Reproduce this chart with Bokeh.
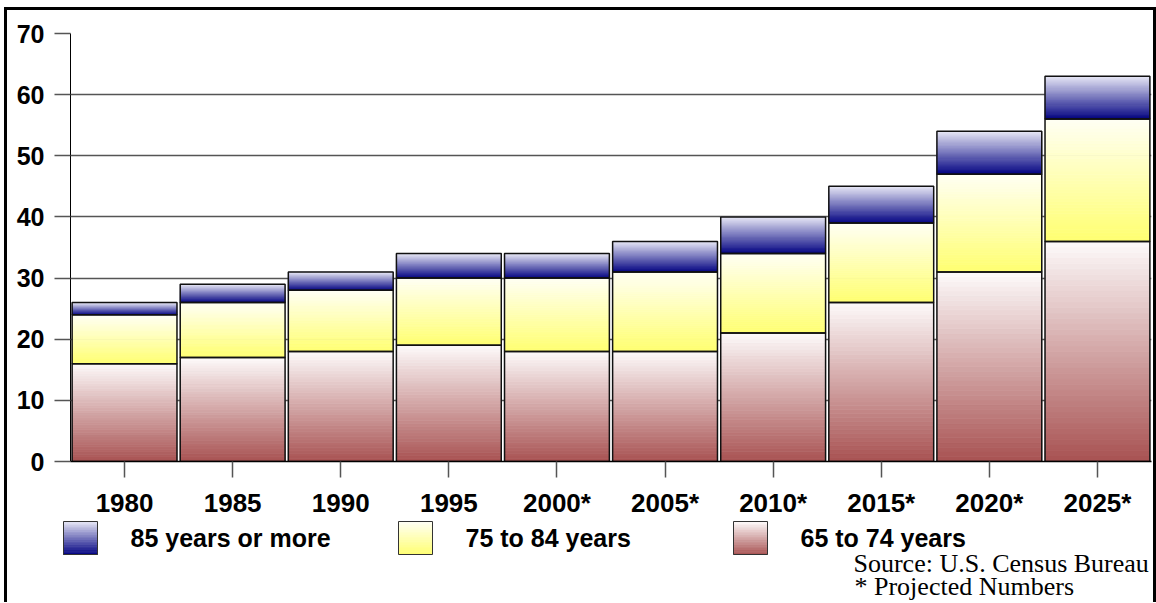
from bokeh.plotting import figure
from bokeh.layouts import column
from bokeh.models import ColumnDataSource, FactorRange, Range1d, SingleIntervalTicker
from bokeh.core.properties import value
from bokeh.embed import file_html
from bokeh.resources import INLINE

# ---- data (millions of people) ----
years = ["1980", "1985", "1990", "1995", "2000*", "2005*", "2010*", "2015*", "2020*", "2025*"]
age_65_74 = [16, 17, 18, 19, 18, 18, 21, 26, 31, 36]
age_75_84 = [8, 9, 10, 11, 12, 13, 13, 13, 16, 20]
age_85_plus = [2, 3, 3, 4, 4, 5, 6, 6, 7, 7]
series_labels = ["65 to 74 years", "75 to 84 years", "85 years or more"]
legend_order = ["85 years or more", "75 to 84 years", "65 to 74 years"]
source_lines = ["Source: U.S. Census Bureau", "* Projected Numbers"]

# ---- styles ----
# (top colour, bottom colour) of each segment's vertical gradient
grad = {
    "65 to 74 years": ((253, 250, 250), (168, 82, 82)),
    "75 to 84 years": ((255, 255, 244), (255, 255, 112)),
    "85 years or more": ((230, 230, 245), (0, 0, 128)),
}
FONT = "Liberation Sans"
SERIF = "Liberation Serif"
N = 40
BAR_W = 0.97
BORDER = "3px solid black"


def lerp(c1, c2, t):
    return "#%02x%02x%02x" % tuple(int(round(a + (b - a) * t)) for a, b in zip(c1, c2))


# ================= main chart =================
p = figure(x_range=FactorRange(*years), y_range=Range1d(0, 70),
           width=1152, height=513, output_backend="svg", toolbar_location=None,
           min_border_left=63, min_border_right=8, min_border_top=23, min_border_bottom=62,
           frame_align=False,
           styles={"margin-left": "4px", "margin-top": "7px",
                   "border-left": BORDER, "border-top": BORDER, "border-right": BORDER})
p.outline_line_color = None
p.background_fill_color = "white"
p.border_fill_color = "white"

slices = dict(x=[], bottom=[], top=[], color=[])
outlines = dict(x=[], bottom=[], top=[])
base = [0] * len(years)
for lab, vals in zip(series_labels, [age_65_74, age_75_84, age_85_plus]):
    top_c, bot_c = grad[lab]
    for i, yr in enumerate(years):
        b = base[i]
        t = b + vals[i]
        for k in range(N):
            slices["x"].append(yr)
            slices["bottom"].append(b + (t - b) * k / N)
            slices["top"].append(b + (t - b) * (k + 1) / N)
            slices["color"].append(lerp(bot_c, top_c, (k + 0.5) / N))
        outlines["x"].append(yr)
        outlines["bottom"].append(b)
        outlines["top"].append(t)
    base = [bb + v for bb, v in zip(base, vals)]

p.vbar(x="x", bottom="bottom", top="top", width=BAR_W, fill_color="color",
       line_color="color", line_width=0.8, source=ColumnDataSource(slices))
p.vbar(x="x", bottom="bottom", top="top", width=BAR_W, fill_alpha=0,
       line_color="#111111", line_width=1.5, source=ColumnDataSource(outlines))

p.xgrid.grid_line_color = None
p.ygrid.grid_line_color = "#555555"
p.ygrid.grid_line_width = 1.5
p.yaxis.ticker = SingleIntervalTicker(interval=10, num_minor_ticks=0)
p.yaxis.minor_tick_line_color = None
p.yaxis.major_tick_in = 0
p.yaxis.major_tick_out = 16
p.yaxis.major_tick_line_color = "#555555"
p.yaxis.major_tick_line_width = 1.5
p.yaxis.axis_line_color = "black"
p.yaxis.axis_line_width = 1
p.yaxis.major_label_standoff = 10
p.yaxis.major_label_text_font = FONT
p.yaxis.major_label_text_font_style = "bold"
p.yaxis.major_label_text_font_size = "25px"
p.yaxis.major_label_text_color = "black"

p.xaxis.major_tick_in = 0
p.xaxis.major_tick_out = 16
p.xaxis.major_tick_line_color = "#555555"
p.xaxis.major_tick_line_width = 1.5
p.xaxis.axis_line_color = "black"
p.xaxis.axis_line_width = 1.5
p.xaxis.major_label_standoff = 10
p.xaxis.major_label_text_font = FONT
p.xaxis.major_label_text_font_style = "bold"
p.xaxis.major_label_text_font_size = "26px"
p.xaxis.major_label_text_color = "black"

# ================= footer: legend + source note =================
# footer canvas is in pixel-like units: x from left of content, y up from bottom
f = figure(x_range=Range1d(0, 1152), y_range=Range1d(0, 82),
           width=1152, height=82, output_backend="svg", toolbar_location=None,
           x_axis_type=None, y_axis_type=None, frame_align=False,
           min_border_left=0, min_border_right=0, min_border_top=0, min_border_bottom=0,
           styles={"margin-left": "4px", "border-left": BORDER, "border-right": BORDER})
f.outline_line_color = None
f.grid.grid_line_color = None
f.background_fill_color = "white"
f.border_fill_color = "white"

SW_LEFT = [56, 391, 726]      # swatch left edges
SW_SIZE = 34
SW_BOTTOM, SW_TOP = 48, 81
TXT_X = [123, 458, 793]
TXT_Y = 65

sw = dict(left=[], right=[], bottom=[], top=[], color=[])
sw_out = dict(left=[], right=[], bottom=[], top=[])
for lab, lx in zip(legend_order, SW_LEFT):
    top_c, bot_c = grad[lab]
    M = 20
    for k in range(M):
        sw["left"].append(lx)
        sw["right"].append(lx + SW_SIZE)
        sw["bottom"].append(SW_BOTTOM + (SW_TOP - SW_BOTTOM) * k / M)
        sw["top"].append(SW_BOTTOM + (SW_TOP - SW_BOTTOM) * (k + 1) / M)
        sw["color"].append(lerp(bot_c, top_c, (k + 0.5) / M))
    sw_out["left"].append(lx)
    sw_out["right"].append(lx + SW_SIZE)
    sw_out["bottom"].append(SW_BOTTOM)
    sw_out["top"].append(SW_TOP)
f.quad(left="left", right="right", bottom="bottom", top="top", fill_color="color",
       line_color="color", line_width=0.8, source=ColumnDataSource(sw))
f.quad(left="left", right="right", bottom="bottom", top="top", fill_alpha=0,
       line_color="#333333", line_width=1, source=ColumnDataSource(sw_out))

f.text(x=TXT_X, y=[TXT_Y] * 3, text=legend_order, text_font=value(FONT),
       text_font_style="bold", text_font_size="25px", text_color="black",
       text_baseline="alphabetic", text_align="left")

f.text(x=[846, 847], y=[39, 16], text=source_lines, text_font=value(SERIF),
       text_font_size="26px", text_color="black", text_baseline="alphabetic",
       text_align="left")

open("out.html", "w").write(file_html(column(p, f, spacing=0), INLINE))
